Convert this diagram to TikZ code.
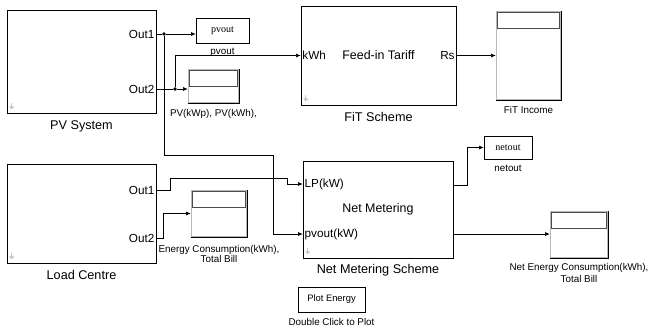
\documentclass[tikz,border=0pt]{standalone}
\usepackage{fontspec}
\setmainfont{Liberation Sans}
\newfontfamily\wsfont{Liberation Serif}
\usetikzlibrary{arrows.meta, positioning, shadows}

\begin{document}
\begin{tikzpicture}[
    x=0.03cm, y=-0.03cm,
    line width=0.5pt,
    blk/.style={draw, fill=white, inner sep=0pt, drop shadow={shadow xshift=0.8pt, shadow yshift=-0.8pt, fill=gray!70, opacity=1}},
    port/.style={font=\fontsize{10}{12}\selectfont, inner sep=1.2pt},
    title/.style={font=\fontsize{10.8}{13}\selectfont, inner sep=0pt},
    small/.style={font=\fontsize{8.4}{9.5}\selectfont, inner sep=0pt, align=center},
    wstext/.style={font=\wsfont\fontsize{8.6}{10}\selectfont},
    arrow/.style={-{Latex[length=4pt, width=3.5pt]}},
    dot/.style={circle, fill, inner sep=0pt, minimum size=3pt}
]
\useasboundingbox (0,0) rectangle (649,331);

% subsystems
\node[blk, minimum width=4.47cm, minimum height=3.09cm] (pv) at (81.5,61.5) {};
\node[blk, minimum width=4.65cm, minimum height=2.97cm, font=\fontsize{10.6}{12}\selectfont] (fit) at (378.5,55.5) {Feed-in Tariff};
\node[blk, minimum width=4.47cm, minimum height=2.97cm] (load) at (81.5,213.5) {};
\node[blk, minimum width=4.5cm, minimum height=2.91cm, font=\fontsize{10.6}{12}\selectfont] (nm) at (378,209.5) {Net Metering};

% sinks
\node[blk, wstext, minimum width=1.59cm, minimum height=0.75cm] (pvws) at (222.5,30.5) {pvout};
\node[blk, wstext, minimum width=1.44cm, minimum height=0.69cm] (netws) at (508,147.5) {netout};
\node[blk, minimum width=1.53cm, minimum height=1.02cm] (pvscope) at (213.5,86) {};
\node[blk, minimum width=1.95cm, minimum height=2.67cm] (fitscope) at (528.5,55.5) {};
\node[blk, minimum width=1.68cm, minimum height=1.41cm] (escope) at (219,213.5) {};
\node[blk, minimum width=1.74cm, minimum height=1.41cm] (nscope) at (579,234.5) {};
\node[blk, minimum width=2.01cm, minimum height=0.75cm, font=\fontsize{8}{10}\selectfont] (plot) at (331.5,299.5) {Plot Energy};

\foreach \s in {pvscope, fitscope, escope, nscope} {
    \draw[gray!55] ([shift={(1,1)}]\s.north west) rectangle ([shift={(-1,-1)}]\s.south east);
    \draw[gray!60!black, fill=white, double=white, double distance=0.6pt] ([shift={(2.5,2.5)}]\s.north west) rectangle ([shift={(-2.5,17)}]\s.north east);
}

\foreach \b in {pv, fit, load, nm}
    \draw[gray!45, line width=1.3pt, -{Triangle[length=2.5pt, width=4.5pt]}] ([shift={(5,-10)}]\b.south west) -- ++(0,6);

% ports
\node[port, anchor=east] (pvo1) at (156,34) {Out1};
\node[port, anchor=east] (pvo2) at (156,89) {Out2};
\node[port, anchor=east] (ldo1) at (156,190) {Out1};
\node[port, anchor=east] (ldo2) at (156,238) {Out2};
\node[port, anchor=west] (fitin) at (fit.west) {kWh};
\node[port, anchor=east] (fitout) at (fit.east) {Rs};
\node[port, anchor=west] (nmlp) at (303,184) {LP(kW)};
\node[port, anchor=west] (nmpv) at (303,234) {pvout(kW)};
\coordinate (nmo1) at (453,185);
\coordinate (nmo2) at (453,234);

% names
\node[title, below=0.21cm of pv] (pvname) {PV System};
\node[title, below=0.2cm of fit] (fitname) {FiT Scheme};
\node[title, below=0.21cm of load] (loadname) {Load Centre};
\node[title, below=0.18cm of nm] (nmname) {Net Metering Scheme};
\node[small, below=0.15cm of pvws] (pvwsname) {pvout};
\node[small, below=0.18cm of netws] (netwsname) {netout};
\node[small, below=0.18cm of pvscope] (pvscopename) {PV(kWp), PV(kWh),};
\node[small, below=0.18cm of fitscope] (fitscopename) {FiT Income};
\node[small, below=0.24cm of escope, font=\fontsize{8.4}{8}\selectfont] (escopename) {Energy Consumption(kWh),\\Total Bill};
\node[small, below=0.15cm of nscope, font=\fontsize{8.4}{9.8}\selectfont] (nscopename) {Net Energy Consumption(kWh),\\Total Bill};
\node[small, below=0.18cm of plot] (plotname) {Double Click to Plot};

% signals
\node[dot] (j1) at (164,34) {};
\node[dot] (j2) at (175,89) {};
\draw (pvo1.east) -- (j1);
\draw[arrow] (j1) -- (j1 -| pvws.west);
\draw[arrow] (j1) |- (273,155) |- (nm.west |- nmpv);
\draw (pvo2.east) -- (j2);
\draw[arrow] (j2) -- (j2 -| pvscope.west);
\draw[arrow] (j2) |- (fit.west);
\draw[arrow] (fitout.east) -- (fitscope.west |- fitout.east);
\draw[arrow] (ldo1.east) -- ++(14,0) |- (287,178) |- (nm.west |- nmlp);
\draw[arrow] (ldo2.east) -- ++(7,0) |- (escope.west);
\draw[arrow] (nmo1) -- ++(14,0) |- (netws.west);
\draw[arrow] (nmo2) -- (nscope.west |- nmo2);
\end{tikzpicture}
\end{document}
